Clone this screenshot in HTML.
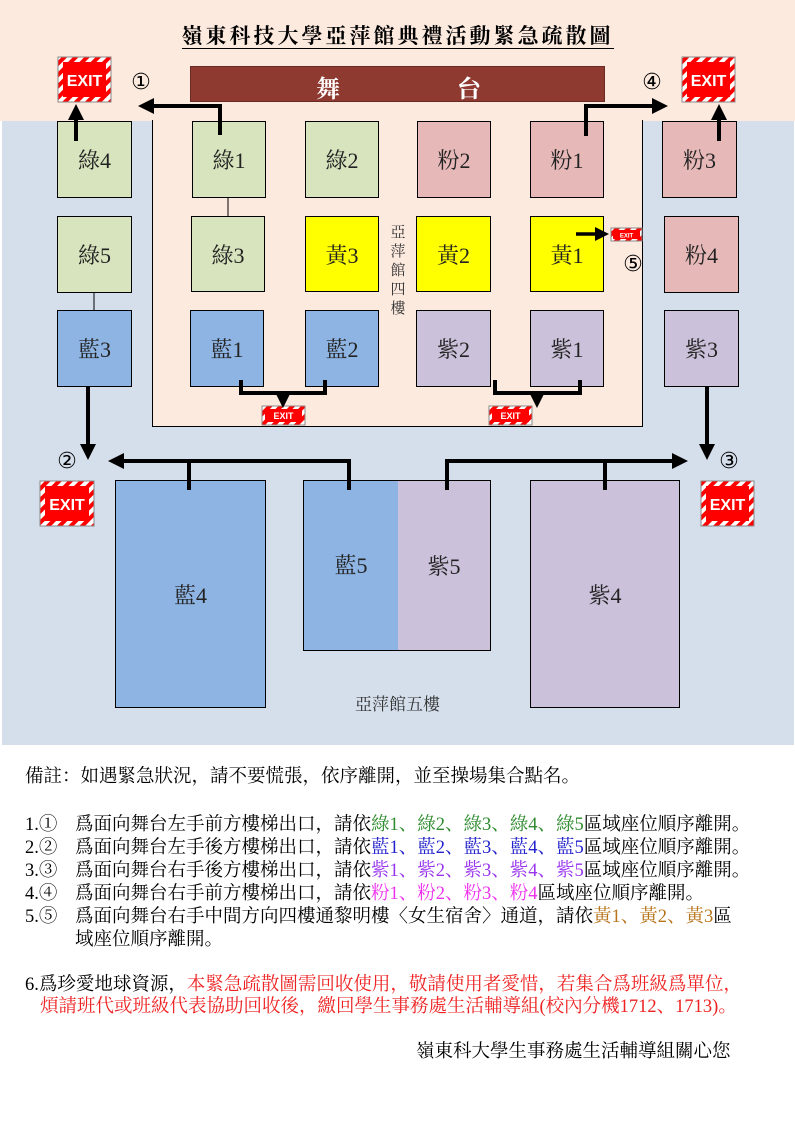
<!DOCTYPE html>
<html><head><meta charset="utf-8"><style>
body{margin:0;width:795px;height:1123px;background:#fff;position:relative;font-family:"Liberation Serif","Noto Serif CJK SC","Noto Sans CJK TC",serif;overflow:hidden}
.a{position:absolute}
.b{position:absolute;border:1.5px solid #000;box-sizing:border-box;display:flex;align-items:center;justify-content:center;font-size:22px;color:#222}
.g{background:#d7e4bd}.p{background:#e6b9b8}.y{background:#ffff00}.bl{background:#8eb4e3}.v{background:#ccc1da}
.t{position:absolute;font-size:18.5px;color:#000;white-space:nowrap;line-height:22px}
.cg{color:#2e8b2e}.cb{color:#2222cc}.cv{color:#9933ee}.cp{color:#ee33ee}.cy{color:#b8741a}.cr{color:#ee2222}
</style></head><body>
<div class="a" style="left:0;top:0;width:795px;height:121px;background:#fdeadf"></div>
<div class="a" style="left:2px;top:121px;width:792px;height:624px;background:#d5dfeb"></div>
<div class="a" style="left:152px;top:120px;width:491px;height:307px;background:#fdeadf;border:1.5px solid #000;border-top:none;box-sizing:border-box"></div>
<div class="a" style="left:0;top:20px;width:795px;text-align:center;font-size:21px;letter-spacing:3px;font-weight:bold"><span style="border-bottom:1.5px solid #000">嶺東科技大學亞萍館典禮活動緊急疏散圖</span></div>
<div class="a" style="left:190px;top:66px;width:415px;height:36px;background:#8e3a31;border:1px solid #6a2a24;box-sizing:border-box;color:#fff;font-size:24px;font-weight:bold"><span class="a" style="left:125px;top:2px">舞</span><span class="a" style="left:266px;top:2px">台</span></div>

<div class="b g" style="left:57px;top:121px;width:75px;height:77px">綠4</div>
<div class="b g" style="left:192px;top:121px;width:74px;height:77px">綠1</div>
<div class="b g" style="left:305px;top:121px;width:74px;height:77px">綠2</div>
<div class="b p" style="left:417px;top:121px;width:74px;height:77px">粉2</div>
<div class="b p" style="left:530px;top:121px;width:74px;height:77px">粉1</div>
<div class="b p" style="left:662px;top:121px;width:75px;height:77px">粉3</div>
<div class="b g" style="left:57px;top:216px;width:75px;height:77px">綠5</div>
<div class="b g" style="left:191px;top:216px;width:74px;height:76px">綠3</div>
<div class="b y" style="left:305px;top:216px;width:74px;height:76px">黃3</div>
<div class="b y" style="left:416px;top:216px;width:75px;height:76px">黃2</div>
<div class="b y" style="left:530px;top:216px;width:74px;height:76px">黃1</div>
<div class="b p" style="left:664px;top:216px;width:75px;height:77px">粉4</div>
<div class="b bl" style="left:57px;top:310px;width:75px;height:77px">藍3</div>
<div class="b bl" style="left:190px;top:310px;width:74px;height:77px">藍1</div>
<div class="b bl" style="left:305px;top:310px;width:74px;height:77px">藍2</div>
<div class="b v" style="left:416px;top:310px;width:75px;height:77px">紫2</div>
<div class="b v" style="left:530px;top:310px;width:74px;height:77px">紫1</div>
<div class="b v" style="left:664px;top:310px;width:75px;height:77px">紫3</div>
<div class="b bl" style="left:115px;top:480px;width:151px;height:228px">藍4</div>
<div class="b bl" style="left:303px;top:480px;width:96px;height:171px;border-right:1px solid #fff;padding-bottom:2px">藍5</div>
<div class="b v" style="left:398px;top:480px;width:93px;height:171px;border-left:none">紫5</div>
<div class="b v" style="left:530px;top:480px;width:150px;height:228px">紫4</div>

<div class="a" style="left:389px;top:224px;width:18px;font-size:15px;line-height:19px;color:#333;text-align:center">亞萍館四樓</div>
<div class="a" style="left:0;top:690px;width:795px;text-align:center;font-size:17px;color:#333">亞萍館五樓</div>

<svg class="a" style="left:0;top:0" width="795" height="760">
<defs>
<pattern id="st" width="8" height="8" patternUnits="userSpaceOnUse" patternTransform="rotate(45)"><rect width="8" height="8" fill="#f00"/><rect width="4" height="8" fill="#fff"/></pattern>
<marker id="ah" markerWidth="4" markerHeight="4" refX="2" refY="2" orient="auto" markerUnits="strokeWidth"><path d="M0,0L4,2L0,4z" fill="#000"/></marker>
</defs>
<g font-family="Liberation Sans,sans-serif" font-weight="bold" fill="#fff" text-anchor="middle">
<g><rect x="58" y="57" width="53" height="45" fill="url(#st)" stroke="#888"/><rect x="63" y="62" width="43" height="35" fill="#f00"/><text x="84.5" y="86" font-size="16">EXIT</text></g>
<g><rect x="682" y="57" width="53" height="45" fill="url(#st)" stroke="#888"/><rect x="687" y="62" width="43" height="35" fill="#f00"/><text x="708.5" y="86" font-size="16">EXIT</text></g>
<g><rect x="40" y="481" width="54" height="45" fill="url(#st)" stroke="#888"/><rect x="45" y="486" width="44" height="35" fill="#f00"/><text x="67" y="510" font-size="16">EXIT</text></g>
<g><rect x="701" y="481" width="53" height="45" fill="url(#st)" stroke="#888"/><rect x="706" y="486" width="43" height="35" fill="#f00"/><text x="727.5" y="510" font-size="16">EXIT</text></g>
<g><rect x="262" y="406" width="43" height="19" fill="url(#st)" stroke="#888"/><rect x="265" y="409" width="37" height="13" fill="#f00"/><text x="283.5" y="419" font-size="9">EXIT</text></g>
<g><rect x="489" y="406" width="43" height="19" fill="url(#st)" stroke="#888"/><rect x="492" y="409" width="37" height="13" fill="#f00"/><text x="510.5" y="419" font-size="9">EXIT</text></g>
<g><rect x="611" y="228" width="31" height="13" fill="url(#st)" stroke="#888"/><rect x="613" y="230" width="27" height="9" fill="#f00"/><text x="626.5" y="237.5" font-size="6">EXIT</text></g>
</g>
<g stroke="#000" stroke-width="4" fill="none">
<path d="M76 141V112" marker-end="url(#ah)"/>
<path d="M220 135V106H146" marker-end="url(#ah)"/>
<path d="M586 136V106H660" marker-end="url(#ah)"/>
<path d="M719 141V112" marker-end="url(#ah)"/>
<path d="M576 234H602" marker-end="url(#ah)" stroke-width="3.5"/>
<path d="M241 380V393H325V380"/>
<path d="M283 393V400" marker-end="url(#ah)"/>
<path d="M495 380V393H580V380"/>
<path d="M537 393V400" marker-end="url(#ah)"/>
<path d="M88 386V452" marker-end="url(#ah)"/>
<path d="M707 386V452" marker-end="url(#ah)"/>
<path d="M349 490V461H116" marker-end="url(#ah)"/>
<path d="M189 461V490"/>
<path d="M447 490V461H680" marker-end="url(#ah)"/>
<path d="M605 461V490"/>
</g>
<path d="M228 197V216M94 292V310" stroke="#000" stroke-width="1"/>
<g font-size="22" fill="#000" font-family="DejaVu Sans,sans-serif" text-anchor="middle">
<text x="141" y="89">①</text><text x="652" y="89">④</text><text x="67" y="468">②</text><text x="729" y="468">③</text><text x="633" y="271">⑤</text>
</g>
</svg>

<div class="t" style="left:25px;top:766px">備註：如遇緊急狀況，請不要慌張，依序離開，並至操場集合點名。</div>
<div class="t" style="left:25px;top:814px">1.①</div><div class="t" style="left:75px;top:814px">爲面向舞台左手前方樓梯出口，請依<span class="cg">綠1、綠2、綠3、綠4、綠5</span>區域座位順序離開。</div>
<div class="t" style="left:25px;top:837px">2.②</div><div class="t" style="left:75px;top:837px">爲面向舞台左手後方樓梯出口，請依<span class="cb">藍1、藍2、藍3、藍4、藍5</span>區域座位順序離開。</div>
<div class="t" style="left:25px;top:860px">3.③</div><div class="t" style="left:75px;top:860px">爲面向舞台右手後方樓梯出口，請依<span class="cv">紫1、紫2、紫3、紫4、紫5</span>區域座位順序離開。</div>
<div class="t" style="left:25px;top:883px">4.④</div><div class="t" style="left:75px;top:883px">爲面向舞台右手前方樓梯出口，請依<span class="cp">粉1、粉2、粉3、粉4</span>區域座位順序離開。</div>
<div class="t" style="left:25px;top:906px">5.⑤</div><div class="t" style="left:75px;top:906px">爲面向舞台右手中間方向四樓通黎明樓〈女生宿舍〉通道，請依<span class="cy">黃1、黃2、黃3</span>區</div>
<div class="t" style="left:75px;top:929px">域座位順序離開。</div>
<div class="t" style="left:25px;top:974px">6.爲珍愛地球資源，<span class="cr">本緊急疏散圖需回收使用，敬請使用者愛惜，若集合爲班級爲單位，</span></div>
<div class="t cr" style="left:40px;top:996px">煩請班代或班級代表協助回收後，繳回學生事務處生活輔導組(校內分機1712、1713)。</div>
<div class="t" style="left:416px;top:1041px">嶺東科大學生事務處生活輔導組關心您</div>
</body></html>
